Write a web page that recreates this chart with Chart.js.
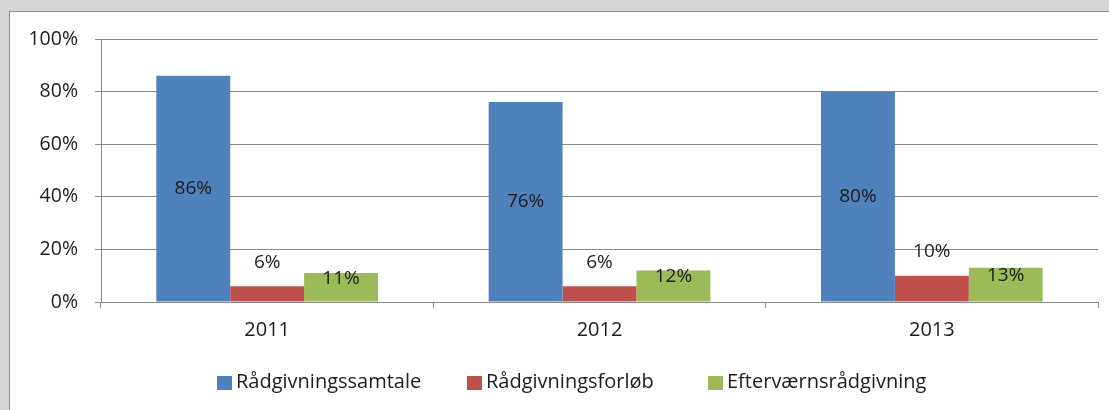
<!DOCTYPE html>
<html>
<head>
<meta charset="utf-8">
<script src="https://cdn.jsdelivr.net/npm/chart.js@4.4.1/dist/chart.umd.min.js"></script>
<style>
  html, body { margin: 0; padding: 0; background: #d6d6d6; overflow: hidden; }
  #frame { position: absolute; left: 9px; top: 11px; width: 1110px; height: 410px; background: #fff; border: 1px solid #8c8c8c; }
  #wrap { position: absolute; left: 0; top: 0; width: 1109px; height: 410px; }
</style>
</head>
<body>
<div id="frame"></div>
<div id="wrap"><canvas id="chart"></canvas></div>
<script>
// Data
const years = ['2011', '2012', '2013'];
const samtale = [86, 76, 80];
const forloeb = [6, 6, 10];
const efterv = [11, 12, 13];
const seriesNames = ['Rådgivningssamtale', 'Rådgivningsforløb', 'Efterværnsrådgivning'];
const yTicks = [0, 20, 40, 60, 80, 100];

const colors = ['#4f81bd', '#c0504d', '#9bbb59'];
const FONT = '"Open Sans", sans-serif';
const textColor = '#1c1c1c';

// Bar value labels, placed roughly like Excel's auto positions
const valueLabels = {
  id: 'valueLabels',
  afterDatasetsDraw(chart) {
    const ctx = chart.ctx;
    ctx.save();
    ctx.font = '19px ' + FONT;
    ctx.fillStyle = textColor;
    ctx.textAlign = 'center';
    ctx.textBaseline = 'middle';
    chart.data.datasets.forEach((ds, i) => {
      chart.getDatasetMeta(i).data.forEach((bar, j) => {
        let y;
        if (i === 0) y = (bar.y + bar.base) / 2;
        else if (i === 1) y = bar.y - 24;
        else y = (bar.y + bar.base) / 2 - 9;
        ctx.fillText(ds.data[j] + '%', bar.x, y);
      });
    });
    ctx.restore();
  }
};

// Legend drawn by hand, placed as in the original
const legendX = [217, 467, 708];
const customLegend = {
  id: 'customLegend',
  afterDraw(chart) {
    const ctx = chart.ctx;
    ctx.save();
    ctx.font = '20px ' + FONT;
    ctx.textBaseline = 'middle';
    chart.data.datasets.forEach((ds, i) => {
      const x = legendX[i];
      ctx.fillStyle = ds.backgroundColor;
      ctx.fillRect(x, 376, 15, 14);
      ctx.fillStyle = textColor;
      ctx.fillText(ds.label, x + 19, 382);
    });
    ctx.restore();
  }
};

new Chart(document.getElementById('chart'), {
  type: 'bar',
  data: {
    labels: years,
    datasets: [
      { label: seriesNames[0], data: samtale, backgroundColor: colors[0] },
      { label: seriesNames[1], data: forloeb, backgroundColor: colors[1] },
      { label: seriesNames[2], data: efterv, backgroundColor: colors[2] }
    ]
  },
  options: {
    responsive: true,
    maintainAspectRatio: false,
    animation: false,
    layout: { padding: { top: 39, right: 11, left: 0, bottom: 0 } },
    plugins: {
      legend: { display: false },
      tooltip: { enabled: false }
    },
    datasets: {
      bar: { categoryPercentage: 0.667, barPercentage: 1.0 }
    },
    scales: {
      x: {
        afterFit(scale) { scale.height = 108; },
        grid: { offset: true, drawOnChartArea: false, tickLength: 6, color: '#8a8a8a' },
        border: { color: '#8a8a8a' },
        ticks: { color: textColor, font: { family: FONT, size: 20 }, padding: 10 }
      },
      y: {
        min: 0,
        max: 100,
        afterFit(scale) { scale.width = 101; },
        afterBuildTicks(scale) { scale.ticks = yTicks.map(v => ({ value: v })); },
        grid: { color: '#8a8a8a', tickLength: 6 },
        border: { color: '#8a8a8a' },
        ticks: {
          color: textColor,
          font: { family: FONT, size: 19.5 },
          padding: 17,
          callback: v => v + '%'
        }
      }
    }
  },
  plugins: [valueLabels, customLegend]
});
</script>
</body>
</html>
